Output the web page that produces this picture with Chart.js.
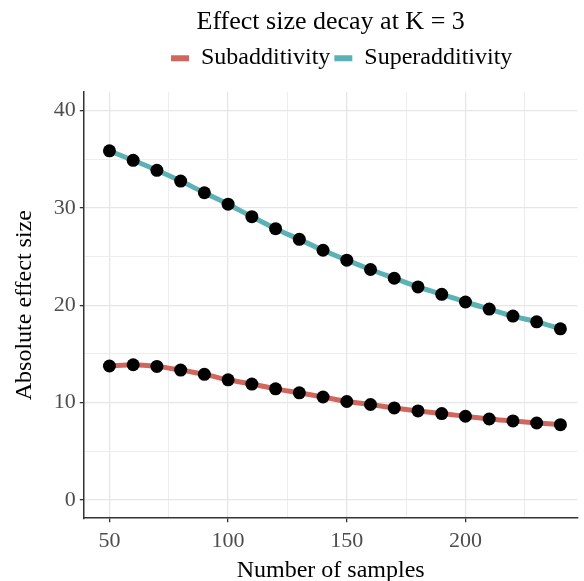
<!DOCTYPE html>
<html>
<head>
<meta charset="utf-8">
<script src="https://cdn.jsdelivr.net/npm/chart.js@4"></script>
<style>
  html, body { margin: 0; padding: 0; background: #ffffff; }
  #wrap { width: 584px; height: 581px; }
</style>
</head>
<body>
<div id="wrap"><canvas id="effect_chart"></canvas></div>
<script>
// data
const samples = [50, 60, 70, 80, 90, 100, 110, 120, 130, 140, 150, 160, 170, 180, 190, 200, 210, 220, 230, 240];
const subadditivity = [13.75, 13.88, 13.71, 13.33, 12.89, 12.33, 11.89, 11.4, 10.99, 10.56, 10.1, 9.79, 9.44, 9.13, 8.86, 8.58, 8.3, 8.1, 7.89, 7.72];
const superadditivity = [35.87, 34.9, 33.87, 32.76, 31.56, 30.39, 29.1, 27.87, 26.77, 25.65, 24.63, 23.67, 22.77, 21.88, 21.12, 20.33, 19.6, 18.88, 18.29, 17.57];
const xTicks = [50, 75, 100, 125, 150, 175, 200, 225];
const yTicks = [0, 5, 10, 15, 20, 25, 30, 35, 40];
const xLabelTicks = [50, 100, 150, 200];
const yLabelTicks = [0, 10, 20, 30, 40];

const serif = "'Liberation Serif', 'DejaVu Serif', serif";

function toPoints(ys) {
    return samples.map((x, i) => ({ x: x, y: ys[i] }));
}

// extra room under the legend, and nudge it right a bit like the original
const legendGap = {
    id: 'legendGap',
    beforeInit(chart) {
        const origFit = chart.legend.fit;
        chart.legend.fit = function() {
            origFit.call(this);
            this.height += 12;
        };
    },
    afterLayout(chart) {
        chart.legend.left += 11;
        chart.legend.right += 11;
    }
};

const ctx = document.getElementById('effect_chart').getContext('2d');
new Chart(ctx, {
    type: 'line',
    data: {
        datasets: [
            {
                label: 'Subadditivity',
                data: toPoints(subadditivity),
                borderColor: '#cf675e',
                backgroundColor: '#cf675e',
                borderWidth: 5,
                pointRadius: 6.5,
                pointBorderWidth: 0,
                pointBackgroundColor: '#000000',
                cubicInterpolationMode: 'monotone'
            },
            {
                label: 'Superadditivity',
                data: toPoints(superadditivity),
                borderColor: '#5cb1b5',
                backgroundColor: '#5cb1b5',
                borderWidth: 5,
                pointRadius: 6.5,
                pointBorderWidth: 0,
                pointBackgroundColor: '#000000',
                cubicInterpolationMode: 'monotone'
            }
        ]
    },
    options: {
        responsive: true,
        maintainAspectRatio: false,
        animation: false,
        layout: { padding: { left: 10, right: 0, top: 5, bottom: 0 } },
        scales: {
            x: {
                type: 'linear',
                min: 39.2,
                max: 247.2,
                afterBuildTicks: scale => { scale.ticks = xTicks.map(v => ({ value: v })); },
                ticks: {
                    color: '#4d4d4d',
                    font: { family: serif, size: 22 },
                    padding: 6,
                    maxRotation: 0,
                    autoSkip: false,
                    callback: v => xLabelTicks.includes(v) ? String(v) : ''
                },
                grid: {
                    color: c => xLabelTicks.includes(c.tick && c.tick.value) ? '#e6e6e6' : '#ededed',
                    lineWidth: c => xLabelTicks.includes(c.tick && c.tick.value) ? 1.3 : 1,
                    tickColor: c => xLabelTicks.includes(c.tick && c.tick.value) ? '#333333' : 'rgba(0,0,0,0)',
                    tickLength: 4
                },
                border: { color: '#333333', width: 1.5 },
                title: {
                    display: true,
                    text: 'Number of samples',
                    color: '#000000',
                    font: { family: serif, size: 24, lineHeight: 0.85 },
                    padding: { top: 0, bottom: 0 }
                }
            },
            y: {
                min: -1.9,
                max: 41.9,
                afterBuildTicks: scale => { scale.ticks = yTicks.map(v => ({ value: v })); },
                ticks: {
                    color: '#4d4d4d',
                    font: { family: serif, size: 22 },
                    padding: 4,
                    autoSkip: false,
                    callback: v => yLabelTicks.includes(v) ? String(v) : ''
                },
                grid: {
                    color: c => yLabelTicks.includes(c.tick && c.tick.value) ? '#e6e6e6' : '#ededed',
                    lineWidth: c => yLabelTicks.includes(c.tick && c.tick.value) ? 1.3 : 1,
                    tickColor: c => yLabelTicks.includes(c.tick && c.tick.value) ? '#333333' : 'rgba(0,0,0,0)',
                    tickLength: 4
                },
                border: { color: '#333333', width: 1.5 },
                title: {
                    display: true,
                    text: 'Absolute effect size',
                    color: '#000000',
                    font: { family: serif, size: 24 },
                    padding: { top: 0, bottom: 11 }
                }
            }
        },
        plugins: {
            title: {
                display: true,
                fullSize: false,
                text: 'Effect size decay at K = 3',
                color: '#000000',
                font: { family: serif, size: 26, weight: 'normal' },
                padding: { top: 2, bottom: 4 }
            },
            legend: {
                display: true,
                fullSize: false,
                position: 'top',
                labels: {
                    color: '#000000',
                    font: { family: serif, size: 24 },
                    boxWidth: 18,
                    boxHeight: 6,
                    padding: 4,
                    generateLabels: chart => {
                        const items = Chart.defaults.plugins.legend.labels.generateLabels(chart);
                        items.forEach(it => { it.lineWidth = 0; });
                        return items;
                    }
                }
            },
            tooltip: { enabled: false }
        }
    },
    plugins: [legendGap]
});
</script>
</body>
</html>
